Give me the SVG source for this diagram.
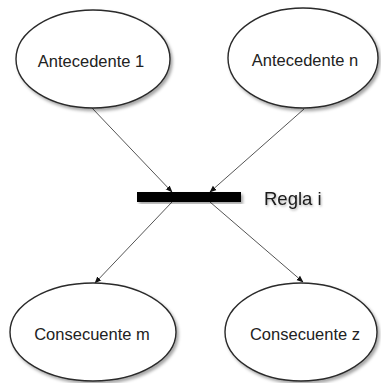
<svg xmlns="http://www.w3.org/2000/svg" width="381" height="383" viewBox="0 0 381 383">
  <defs>
    <filter id="shadow" x="-10%" y="-10%" width="125%" height="130%">
      <feDropShadow dx="2" dy="2.5" stdDeviation="1.5" flood-color="#000" flood-opacity="0.35"/>
    </filter>
    <filter id="textShadow" x="-10%" y="-20%" width="130%" height="150%">
      <feDropShadow dx="1" dy="1.5" stdDeviation="1" flood-color="#000" flood-opacity="0.3"/>
    </filter>
    <marker id="arrow" viewBox="0 0 10 10" refX="9" refY="5" markerWidth="7" markerHeight="7" orient="auto" markerUnits="userSpaceOnUse">
      <path d="M0,1 L10,5 L0,9 Z" fill="#111"/>
    </marker>
  </defs>
  <style>
    .node ellipse { fill: #fff; stroke: #2a2a2a; stroke-width: 1.4; filter: url(#shadow); }
    .node text { font-family: "Liberation Sans", Arial, sans-serif; font-size: 16.5px; fill: #222; text-anchor: middle; }
    .edge { stroke: #555; stroke-width: 1; fill: none; marker-end: url(#arrow); }
    .rule-label { font-family: "Liberation Sans", Arial, sans-serif; font-size: 18.5px; fill: #1a1a1a; filter: url(#textShadow); }
  </style>
  <rect width="381" height="383" fill="#fff"/>

  <g id="connectors">
    <line class="edge" x1="92" y1="108" x2="172" y2="192"/>
    <line class="edge" x1="304" y1="109" x2="210" y2="192"/>
    <line class="edge" x1="172" y1="202" x2="95" y2="283"/>
    <line class="edge" x1="210" y1="202" x2="303" y2="282"/>
  </g>

  <g id="antecedente-1" class="node">
    <ellipse cx="93" cy="59" rx="77" ry="49"/>
    <text x="91" y="67">Antecedente 1</text>
  </g>

  <g id="antecedente-n" class="node">
    <ellipse cx="303" cy="58" rx="75" ry="50"/>
    <text x="305" y="66">Antecedente n</text>
  </g>

  <g id="regla-i">
    <rect x="137" y="192" width="104" height="10" fill="#000" filter="url(#shadow)"/>
    <text class="rule-label" x="264" y="205">Regla i</text>
  </g>

  <g id="consecuente-m" class="node">
    <ellipse cx="93" cy="332" rx="83" ry="49"/>
    <text x="92" y="340">Consecuente m</text>
  </g>

  <g id="consecuente-z" class="node">
    <ellipse cx="301" cy="332" rx="76" ry="49"/>
    <text x="305" y="340">Consecuente z</text>
  </g>
</svg>
